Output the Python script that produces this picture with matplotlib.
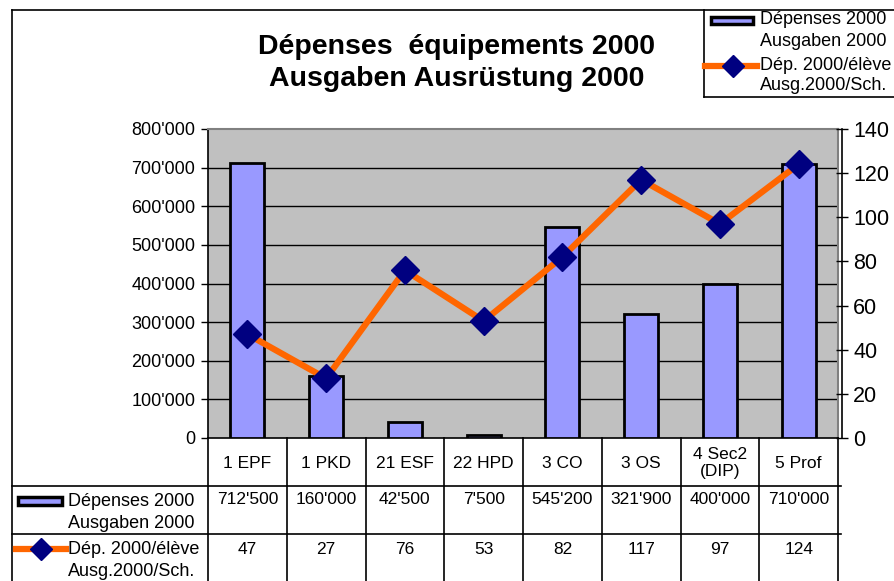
import matplotlib.pyplot as plt
from matplotlib.patches import Rectangle
from matplotlib.lines import Line2D

plt.rcParams['font.family'] = ['Liberation Sans', 'DejaVu Sans']

categories = ["1 EPF", "1 PKD", "21 ESF", "22 HPD", "3 CO", "3 OS", "4 Sec2\n(DIP)", "5 Prof"]
depenses = [712500, 160000, 42500, 7500, 545200, 321900, 400000, 710000]
dep_eleve = [47, 27, 76, 53, 82, 117, 97, 124]
depenses_txt = ["712'500", "160'000", "42'500", "7'500", "545'200", "321'900", "400'000", "710'000"]
left_ticks = [0, 100000, 200000, 300000, 400000, 500000, 600000, 700000, 800000]
left_labels = ["0", "100'000", "200'000", "300'000", "400'000", "500'000", "600'000", "700'000", "800'000"]
right_ticks = [0, 20, 40, 60, 80, 100, 120, 140]
nom_barres = ["Dépenses 2000", "Ausgaben 2000"]
nom_ligne = ["Dép. 2000/élève", "Ausg.2000/Sch."]

W, H = 894, 581
bar_col = "#9999ff"
line_col = "#ff6600"
mark_col = "#000080"

fig = plt.figure(figsize=(W / 100, H / 100), dpi=100)

# zone du graphique (pixels)
px0, px1, py0, py1 = 208, 838, 129, 438
ax = fig.add_axes([px0 / W, 1 - py1 / H, (px1 - px0) / W, (py1 - py0) / H])
ax.set_facecolor("#c0c0c0")
x = list(range(len(categories)))
ax.bar(x, depenses, width=0.43, color=bar_col, edgecolor="black", linewidth=2, zorder=3)
ax.set_xlim(-0.5, len(categories) - 0.5)
ax.set_ylim(0, 800000)
ax.set_yticks(left_ticks)
ax.set_yticklabels(left_labels)
ax.set_xticks([])
for t in left_ticks[1:-1]:
    ax.axhline(t, color="black", lw=1, zorder=1)
for s in ["top", "right"]:
    ax.spines[s].set_color("#808080")
    ax.spines[s].set_linewidth(1.5)
ax.spines["left"].set_linewidth(1.2)
ax.spines["bottom"].set_linewidth(1.2)
ax.tick_params(axis="y", length=5, width=1, pad=4, labelsize=13)

ax2 = ax.twinx()
ax2.plot(x, dep_eleve, color=line_col, lw=4.5, marker="D", markersize=14,
         markerfacecolor=mark_col, markeredgecolor=mark_col, zorder=4)
ax2.set_ylim(0, 140)
ax2.set_yticks(right_ticks)
ax2.tick_params(axis="y", direction="inout", length=8, width=1, pad=4, labelsize=15.5)
ax2.spines["right"].set_position(("outward", 3))
ax2.spines["right"].set_linewidth(1.2)
for s in ["top", "left", "bottom"]:
    ax2.spines[s].set_visible(False)

# calque pour le tableau, le cadre et la légende
ov = fig.add_axes([0, 0, 1, 1], zorder=5)
ov.set_xlim(0, W)
ov.set_ylim(H, 0)
ov.axis("off")
ov.patch.set_alpha(0)

k = dict(color="black", lw=1.2)
# cadre extérieur
ov.plot([12, W], [10, 10], **k)
ov.plot([12, 12], [10, H], **k)

# tableau
cw = (px1 - px0) / len(categories)
r0, r1, r2 = 438, 486, 534
for i in range(len(categories) + 1):
    xi = px0 + i * cw
    ov.plot([xi, xi], [r0, H], **k)
ov.plot([12, px1 + 3], [r1, r1], **k)
ov.plot([12, px1 + 3], [r2, r2], **k)
for i, c in enumerate(categories):
    xc = px0 + (i + 0.5) * cw
    ov.text(xc, (r0 + r1) / 2 + 1, c, ha="center", va="center", fontsize=12.5, linespacing=1.15)
    ov.text(xc, r1 + 14, depenses_txt[i], ha="center", va="center", fontsize=12.5)
    ov.text(xc, r2 + 15, str(dep_eleve[i]), ha="center", va="center", fontsize=12.5)


def deux_lignes(xt, y1, y2, lignes):
    ov.text(xt, y1, lignes[0], ha="left", va="center", fontsize=13)
    ov.text(xt, y2, lignes[1], ha="left", va="center", fontsize=13)


# légendes du tableau
ov.add_patch(Rectangle((18, 497), 44, 8, facecolor=bar_col, edgecolor="black", lw=2.5))
deux_lignes(68, 502, 523, nom_barres)
ov.add_line(Line2D([16, 66], [549, 549], color=line_col, lw=4.5))
ov.plot([41], [549], marker="D", markersize=11, color=mark_col)
deux_lignes(68, 549, 571, nom_ligne)

# légende en haut à droite
ov.plot([704, 704], [10, 97], **k)
ov.plot([704, W], [97, 97], **k)
ov.add_patch(Rectangle((711, 17), 42, 7, facecolor=bar_col, edgecolor="black", lw=2.5))
deux_lignes(760, 20, 42, nom_barres)
ov.add_line(Line2D([705, 757], [66, 66], color=line_col, lw=4.5))
ov.plot([733], [66], marker="D", markersize=11, color=mark_col)
deux_lignes(760, 65, 86, nom_ligne)

# titre
ov.text(457, 63, "Dépenses  équipements 2000\nAusgaben Ausrüstung 2000", ha="center",
        va="center", fontsize=20.5, fontweight="bold", linespacing=1.25)

fig.savefig("out.png", dpi=100)
